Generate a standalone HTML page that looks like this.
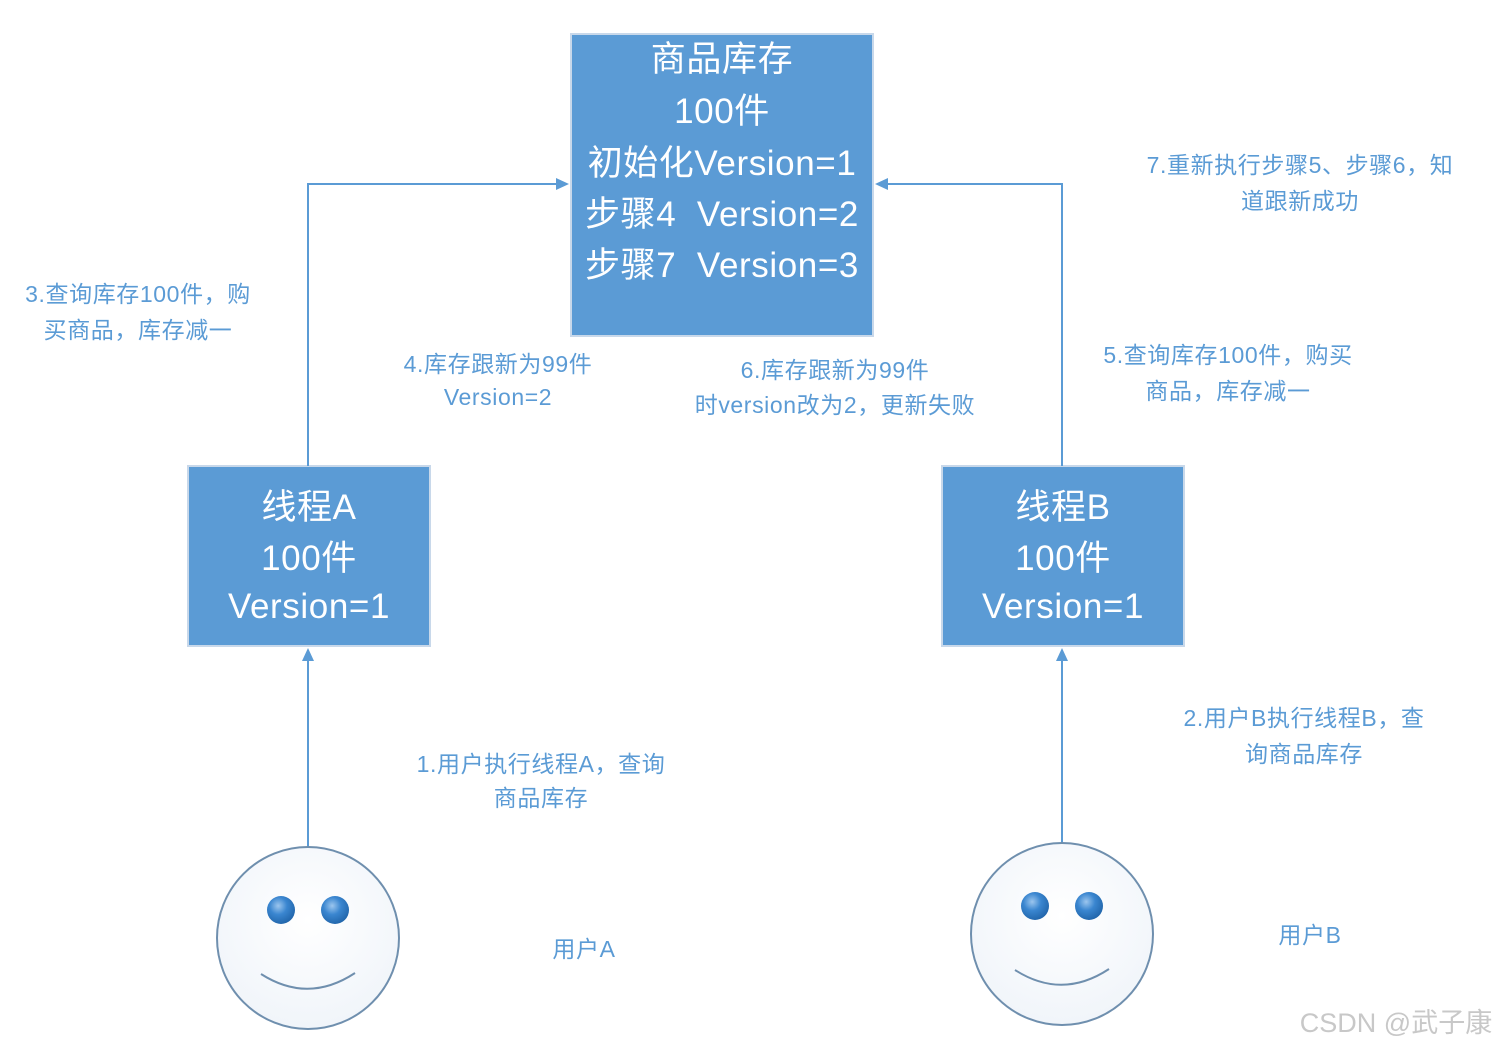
<!DOCTYPE html>
<html><head><meta charset="utf-8"><style>
html,body{margin:0;padding:0;background:#fff}
svg{display:block}
text{font-family:"Liberation Sans","Noto Sans CJK SC",sans-serif}
.w{fill:#fff;font-size:35px;text-anchor:middle;letter-spacing:0.6px}
.l{fill:#5b9bd5;font-size:23px;text-anchor:middle;letter-spacing:0.6px}
</style></head><body>
<svg width="1500" height="1049" viewBox="0 0 1500 1049" xmlns="http://www.w3.org/2000/svg">
<defs>
<radialGradient id="eye" cx="0.4" cy="0.35" r="0.7"><stop offset="0" stop-color="#9cc6ee"/><stop offset="0.45" stop-color="#3a86d0"/><stop offset="1" stop-color="#1f63a8"/></radialGradient>
<radialGradient id="face" cx="0.5" cy="0.4" r="0.7"><stop offset="0" stop-color="#fff"/><stop offset="1" stop-color="#eef3f9"/></radialGradient>
</defs>
<rect x="571" y="34" width="302" height="302" fill="#5b9bd5" stroke="#c8d8ea" stroke-width="2"/>
<rect x="188" y="466" width="242" height="180" fill="#5b9bd5" stroke="#c8d8ea" stroke-width="2"/>
<rect x="942" y="466" width="242" height="180" fill="#5b9bd5" stroke="#c8d8ea" stroke-width="2"/>
<text class="w" x="722" y="71">商品库存</text>
<text class="w" x="722" y="123">100件</text>
<text class="w" x="722" y="175">初始化Version=1</text>
<text class="w" x="722" y="226">步骤4&#160;&#160;Version=2</text>
<text class="w" x="722" y="277">步骤7&#160;&#160;Version=3</text>
<text class="w" x="309" y="519">线程A</text>
<text class="w" x="309" y="570">100件</text>
<text class="w" x="309" y="618">Version=1</text>
<text class="w" x="1063" y="519">线程B</text>
<text class="w" x="1063" y="570">100件</text>
<text class="w" x="1063" y="618">Version=1</text>
<g stroke="#5b9bd5" stroke-width="2" fill="none">
<polyline points="308,466 308,184 558,184"/>
<polyline points="1062,466 1062,184 886,184"/>
<line x1="308" y1="847" x2="308" y2="660"/>
<line x1="1062" y1="843" x2="1062" y2="660"/>
</g>
<g fill="#5b9bd5">
<polygon points="569,184 556,178 556,190"/>
<polygon points="875,184 888,178 888,190"/>
<polygon points="308,648 302,661 314,661"/>
<polygon points="1062,648 1056,661 1068,661"/>
</g>
<g>
<circle cx="308" cy="938" r="91" fill="url(#face)" stroke="#6f8fae" stroke-width="2"/>
<circle cx="281" cy="910" r="14" fill="url(#eye)"/>
<circle cx="335" cy="910" r="14" fill="url(#eye)"/>
<path d="M261,974 Q308,1004 355,973" stroke="#6f8fae" stroke-width="2" fill="none"/>
</g>
<g>
<circle cx="1062" cy="934" r="91" fill="url(#face)" stroke="#6f8fae" stroke-width="2"/>
<circle cx="1035" cy="906" r="14" fill="url(#eye)"/>
<circle cx="1089" cy="906" r="14" fill="url(#eye)"/>
<path d="M1015,970 Q1062,1000 1109,969" stroke="#6f8fae" stroke-width="2" fill="none"/>
</g>
<text class="l" x="138" y="302">3.查询库存100件，购</text>
<text class="l" x="138" y="338">买商品，库存减一</text>
<text class="l" x="498" y="372">4.库存跟新为99件</text>
<text class="l" x="498" y="405">Version=2</text>
<text class="l" x="835" y="378">6.库存跟新为99件</text>
<text class="l" x="835" y="413">时version改为2，更新失败</text>
<text class="l" x="1300" y="173">7.重新执行步骤5、步骤6，知</text>
<text class="l" x="1300" y="209">道跟新成功</text>
<text class="l" x="1228" y="363">5.查询库存100件，购买</text>
<text class="l" x="1228" y="399">商品，库存减一</text>
<text class="l" x="541" y="772">1.用户执行线程A，查询</text>
<text class="l" x="541" y="806">商品库存</text>
<text class="l" x="1304" y="726">2.用户B执行线程B，查</text>
<text class="l" x="1304" y="762">询商品库存</text>
<text class="l" x="584" y="957">用户A</text>
<text class="l" x="1310" y="943">用户B</text>
<text x="1396" y="1032" fill="#c8c8c8" font-size="27" text-anchor="middle">CSDN @武子康</text>
</svg>
</body></html>
